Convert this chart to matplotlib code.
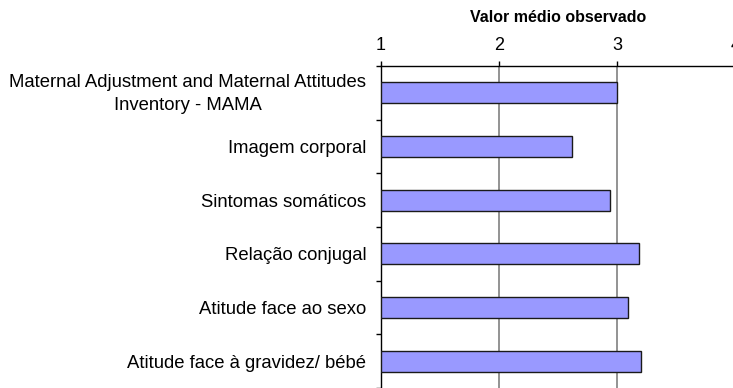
import matplotlib
matplotlib.use("Agg")
import matplotlib.pyplot as plt
import matplotlib.transforms as mtransforms
import numpy as np

plt.rcParams['font.family'] = ['Liberation Sans', 'DejaVu Sans']

categorias = ["Maternal Adjustment and Maternal Attitudes\nInventory - MAMA",
              "Imagem corporal",
              "Sintomas somáticos",
              "Relação conjugal",
              "Atitude face ao sexo",
              "Atitude face à gravidez/ bébé"]
valores = [3.00, 2.62, 2.94, 3.18, 3.09, 3.20]
ticks_x = [1, 2, 3, 4]

fig = plt.figure(figsize=(7.33, 3.88), dpi=100)
ax = fig.add_axes([381 / 733, 0.0, 354.6 / 733, 322 / 388])

y = np.arange(len(categorias))
ax.barh(y, np.array(valores) - 1, left=1, height=0.39, color='#9999FF',
        edgecolor='#1a1a1a', linewidth=1.0, zorder=3)

ax.set_xlim(1, 4)
ax.set_ylim(len(categorias) - 0.5, -0.5)
ax.xaxis.tick_top()
ax.xaxis.set_label_position('top')
ax.set_xticks(ticks_x)
ax.set_xticklabels([str(t) for t in ticks_x], fontsize=13)
ax.tick_params(axis='x', length=3.5, width=1, direction='out', pad=5.5)
ax.set_xlabel("Valor médio observado", fontsize=11.5, fontweight='bold', labelpad=10.4)

ax.set_yticks(y)
ax.set_yticklabels(categorias, fontsize=13.3, ha='right', linespacing=1.5)
ax.set_yticks(np.arange(len(categorias) + 1) - 0.5, minor=True)
ax.tick_params(axis='y', which='major', length=0, pad=10.5)
ax.tick_params(axis='y', which='minor', length=3.6, width=1, color='black')
for lbl in ax.get_yticklabels():
    lbl.set_multialignment('center')

# two-line label sits a little higher in the original
desloc = mtransforms.ScaledTranslation(0, 4 / 100, fig.dpi_scale_trans)
lbl0 = ax.get_yticklabels()[0]
lbl0.set_transform(lbl0.get_transform() + desloc)

for v in [2, 3, 4]:
    ax.axvline(v, color='#808080', linewidth=1.2, zorder=1)

for s in ['right', 'bottom']:
    ax.spines[s].set_visible(False)
ax.spines['top'].set_linewidth(1.0)
ax.spines['left'].set_linewidth(1.0)

fig.savefig("out.png", dpi=100)
